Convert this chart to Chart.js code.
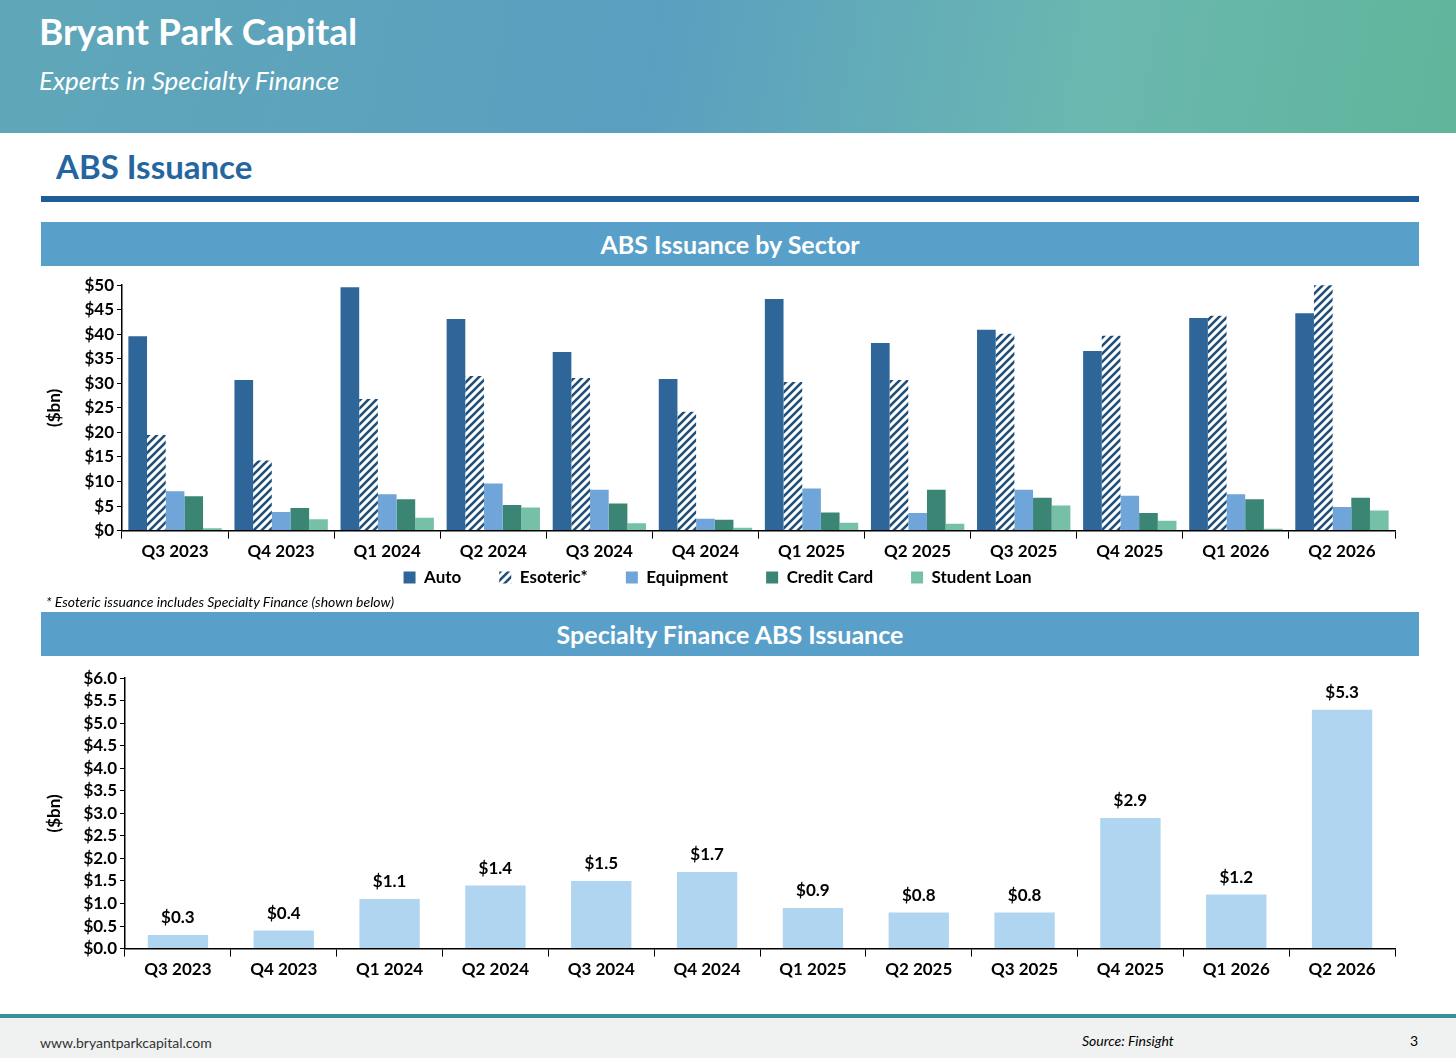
<!DOCTYPE html>
<html><head><meta charset="utf-8">
<script src="https://cdn.jsdelivr.net/npm/chart.js@4"></script>
<style>
body{margin:0;width:1456px;height:1058px;background:#fff;font-family:Lato,sans-serif;position:relative;overflow:hidden}
#hdr{position:absolute;left:0;top:0;width:1456px;height:133px;background:linear-gradient(100deg,#5fa7b8 0%,#5a9fc0 45%,#6bb8b0 75%,#5fb59a 100%)}
#hdr .t{position:absolute;left:39px;top:8px;color:#fff;font-weight:bold;font-size:37px}
#hdr .s{position:absolute;left:39px;top:64px;color:#fff;font-style:italic;font-size:26px}
#title{position:absolute;left:56px;top:146px;color:#2566a0;font-weight:bold;font-size:33px}
#rule{position:absolute;left:41px;top:196px;width:1378px;height:6px;background:#1f5d99}
.ban{position:absolute;left:41px;width:1378px;height:44px;background:#58a0c9;color:#fff;font-weight:bold;font-size:25px;text-align:center;line-height:44px}
#c1{position:absolute;left:40px;top:272px;width:1370px;height:324px}
#c2{position:absolute;left:40px;top:665px;width:1370px;height:318px}
#note{position:absolute;left:46px;top:593px;font-style:italic;font-size:14px}
#foot{position:absolute;left:0;top:1014px;width:1456px;height:44px;background:#f0f2f2;border-top:4px solid #3a8f9a}
#foot .u{position:absolute;left:40px;top:16px;font-size:14px;color:#333}
#foot .src{position:absolute;left:1082px;top:14px;font-size:14px;font-style:italic}
#foot .p{position:absolute;left:1410px;top:14px;font-size:14px}
</style></head><body>
<div id="hdr"><div class="t">Bryant Park Capital</div><div class="s">Experts in Specialty Finance</div></div>
<div id="title">ABS Issuance</div>
<div id="rule"></div>
<div class="ban" style="top:222px">ABS Issuance by Sector</div>
<div id="c1"><canvas id="chart1"></canvas></div>
<div id="note">* Esoteric issuance includes Specialty Finance (shown below)</div>
<div class="ban" style="top:612px">Specialty Finance ABS Issuance</div>
<div id="c2"><canvas id="chart2"></canvas></div>
<div id="foot"><span class="u">www.bryantparkcapital.com</span><span class="src">Source: Finsight</span><span class="p">3</span></div>
<script>
const quarters = ["Q3 2023","Q4 2023","Q1 2024","Q2 2024","Q3 2024","Q4 2024","Q1 2025","Q2 2025","Q3 2025","Q4 2025","Q1 2026","Q2 2026"];
const auto = [39.6,30.7,49.6,43.1,36.4,30.9,47.2,38.2,40.9,36.6,43.3,44.3];
const esoteric = [19.5,14.3,26.8,31.5,31.1,24.2,30.3,30.7,40.1,39.7,43.8,50.2];
const equipment = [8.0,3.8,7.4,9.6,8.3,2.4,8.6,3.6,8.3,7.1,7.4,4.8];
const creditCard = [7.0,4.6,6.4,5.2,5.5,2.2,3.7,8.3,6.7,3.6,6.4,6.7];
const studentLoan = [0.5,2.3,2.6,4.7,1.5,0.6,1.6,1.4,5.1,2.0,0.4,4.1];
const specialty = [0.3,0.4,1.1,1.4,1.5,1.7,0.9,0.8,0.8,2.9,1.2,5.3];

function hatch() {
  const c = document.createElement("canvas");
  c.width = 8; c.height = 8;
  const x = c.getContext("2d");
  x.fillStyle = "#fff"; x.fillRect(0, 0, 8, 8);
  x.strokeStyle = "#1f4e79"; x.lineWidth = 2.6;
  x.beginPath();
  x.moveTo(0, 8); x.lineTo(8, 0);
  x.moveTo(-4, 4); x.lineTo(4, -4);
  x.moveTo(4, 12); x.lineTo(12, 4);
  x.stroke();
  return x.createPattern(c, "repeat");
}

Chart.defaults.font.family = "Lato";
Chart.defaults.font.weight = "bold";
Chart.defaults.color = "#000";
Chart.defaults.animation = false;

const xAxis = {
  grid: { offset: true, drawOnChartArea: false, color: "#000", tickLength: 8 },
  border: { color: "#000", width: 1.5 },
  ticks: { font: { size: 17 } }
};
const yTitle = { display: true, text: "($bn)", font: { size: 17, weight: "bold" } };

new Chart(document.getElementById("chart1"), {
  type: "bar",
  data: {
    labels: quarters,
    datasets: [
      { label: "Auto", data: auto, backgroundColor: "#2e6699" },
      { label: "Esoteric*", data: esoteric, backgroundColor: hatch() },
      { label: "Equipment", data: equipment, backgroundColor: "#6fa5d8" },
      { label: "Credit Card", data: creditCard, backgroundColor: "#3a8574" },
      { label: "Student Loan", data: studentLoan, backgroundColor: "#76c0a8" }
    ]
  },
  options: {
    responsive: true, maintainAspectRatio: false,
    categoryPercentage: 0.88, barPercentage: 1,
    layout: { padding: { right: 15 } },
    plugins: {
      legend: {
        position: "bottom",
        labels: {
          boxWidth: 12, boxHeight: 12, padding: 4, font: { size: 17 },
          generateLabels: chart => Chart.defaults.plugins.legend.labels.generateLabels(chart)
            .map((l, i, all) => ({ ...l, text: i < all.length - 1 ? l.text + "\u2003\u2003\u2002" : l.text }))
        }
      },
      tooltip: { enabled: false }
    },
    scales: {
      x: xAxis,
      y: {
        min: 0, max: 50, afterFit: s => { s.width = 82; },
        ticks: { stepSize: 5, autoSkip: false, callback: v => "$" + v, font: { size: 17 } },
        grid: { drawOnChartArea: false, color: "#000", tickLength: 5 },
        border: { color: "#000", width: 1.5 },
        title: yTitle
      }
    }
  }
});

const labelPlugin = {
  id: "vals",
  afterDatasetsDraw(chart) {
    const ctx = chart.ctx;
    ctx.save();
    ctx.font = "bold 17px Lato";
    ctx.fillStyle = "#000";
    ctx.textAlign = "center";
    chart.getDatasetMeta(0).data.forEach((bar, i) => {
      ctx.fillText("$" + specialty[i].toFixed(1), bar.x, bar.y - 12);
    });
    ctx.restore();
  }
};

new Chart(document.getElementById("chart2"), {
  type: "bar",
  data: {
    labels: quarters,
    datasets: [{ label: "Specialty", data: specialty, backgroundColor: "#afd5f0" }]
  },
  plugins: [labelPlugin],
  options: {
    responsive: true, maintainAspectRatio: false,
    categoryPercentage: 0.57, barPercentage: 1,
    layout: { padding: { right: 15, top: 6 } },
    plugins: { legend: { display: false }, tooltip: { enabled: false } },
    scales: {
      x: xAxis,
      y: {
        min: 0, max: 6, afterFit: s => { s.width = 85; },
        ticks: { stepSize: 0.5, autoSkip: false, callback: v => "$" + v.toFixed(1), font: { size: 17 } },
        grid: { drawOnChartArea: false, color: "#000", tickLength: 5 },
        border: { color: "#000", width: 1.5 },
        title: yTitle
      }
    }
  }
});
</script>
</body></html>
